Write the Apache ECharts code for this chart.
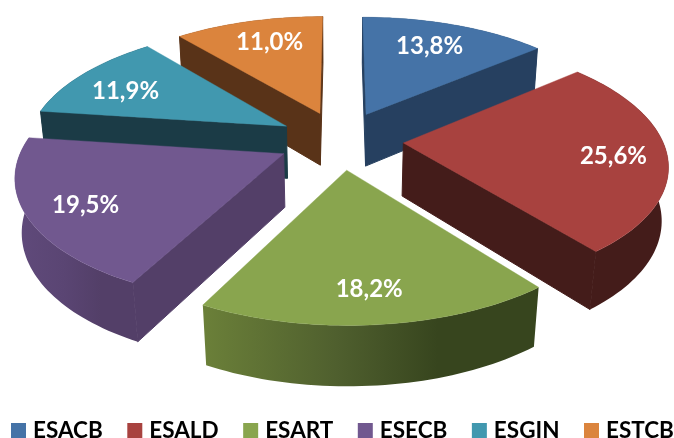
<!DOCTYPE html>
<html><head><meta charset="utf-8">
<style>html,body{margin:0;padding:0;background:#fff}#c{width:674px;height:438px}</style>
<script src="https://cdn.jsdelivr.net/npm/echarts@6/dist/echarts.min.js"></script>
</head><body><div id="c"></div>
<script>
const categories = ['ESACB','ESALD','ESART','ESECB','ESGIN','ESTCB'];
const shares = [13.8,25.6,18.2,19.5,11.9,11.0];
const shareLabels = ['13,8%','25,6%','18,2%','19,5%','11,9%','11,0%'];
const topColors = ['#4573A7','#A8423F','#89A54E','#71588F','#4198AF','#DB843D'];
const faceColors = ['#264060','#441C1A','#3F4D23','#533F68','#1B3B46','#593318'];
const rimLeft = ['#264060','#441C1A','#6B8039','#604A7B','#1B3B46','#593318'];
const rimMid = ['#264060','#441C1A','#4F5F2E','#5A4573','#1B3B46','#593318'];
const rimRight = ['#264060','#441C1A','#37451E','#533F68','#1B3B46','#593318'];
const paintOrder = [1,3,5,4,2,0]; // z rank for each category (far slices first)
const labelShift = [[-8,3],[5,4],[-1,4],[-1,4],[0,6],[7,3]];

const V = {cx:340.5, cy:140, A:259, B:120, p:0.158, q:0.0205, D:54, explode:0.243, labelAt:0.78};
function project(X,Y,Z){
  const w = 1/(1+V.p*Y+V.q*Z);
  return [V.cx+V.A*X*w, V.cy-V.B*Y*w+V.D*Z*w];
}
const total = shares.reduce((a,b)=>a+b,0);
let acc = 0;
const spans = shares.map(v=>{const a=acc/total*2*Math.PI; acc+=v; return [a,acc/total*2*Math.PI];});

function renderSlice(idx){
  return function(){
    const [a0,a1] = spans[idx], mid=(a0+a1)/2;
    const ex=V.explode*Math.sin(mid), ey=V.explode*Math.cos(mid);
    const rim=(t,z)=>project(ex+Math.sin(t),ey+Math.cos(t),z);
    const n=Math.max(8,Math.round((a1-a0)*40));
    const ts=[];for(let i=0;i<=n;i++)ts.push(a0+(a1-a0)*i/n);
    const apexT=project(ex,ey,0), apexB=project(ex,ey,1);
    const poly=(pts,fill,lw)=>({type:'polygon',shape:{points:pts},style:{fill:fill,stroke:typeof fill==='string'?fill:null,lineWidth:typeof fill==='string'?lw:0},silent:true});
    const kids=[];
    kids.push(poly(ts.map(t=>rim(t,0)).concat(ts.slice().reverse().map(t=>rim(t,1))),
      new echarts.graphic.LinearGradient(0,0,1,0,[{offset:0,color:rimLeft[idx]},{offset:0.4,color:rimMid[idx]},{offset:0.7,color:rimRight[idx]},{offset:1,color:rimRight[idx]}]),0));
    if(Math.sin(a0)<=0.001) kids.push(poly([apexT,rim(a0,0),rim(a0,1),apexB],faceColors[idx],1));
    if(Math.sin(a1)>=-0.001) kids.push(poly([apexT,rim(a1,0),rim(a1,1),apexB],faceColors[idx],1));
    kids.push(poly([apexT].concat(ts.map(t=>rim(t,0))),topColors[idx],0.4));
    const lp=project(ex+V.labelAt*Math.sin(mid),ey+V.labelAt*Math.cos(mid),0);
    kids.push({type:'text',x:lp[0]+labelShift[idx][0],y:lp[1]+labelShift[idx][1],silent:true,style:{text:shareLabels[idx],fill:'#fff',
      font:'bold 24px Lato',align:'center',verticalAlign:'middle'}});
    return {type:'group',children:kids};
  };
}
const chart=echarts.init(document.getElementById('c'),null,{renderer:'canvas'});
chart.setOption({
  animation:false,
  color:topColors,
  legend:{left:11,top:419,width:800,icon:'rect',itemWidth:15,itemHeight:15,itemGap:24.5,padding:0,
    data:categories,selectedMode:false,
    textStyle:{fontFamily:'Lato',fontWeight:'bold',fontSize:22.5,color:'#000',padding:[0,0,0,2]}},
  series:categories.map((name,i)=>({
    type:'custom',name,coordinateSystem:'none',z:2+paintOrder[i],
    data:[[shares[i]]],renderItem:renderSlice(i),itemStyle:{color:topColors[i]}
  }))
});
</script></body></html>
